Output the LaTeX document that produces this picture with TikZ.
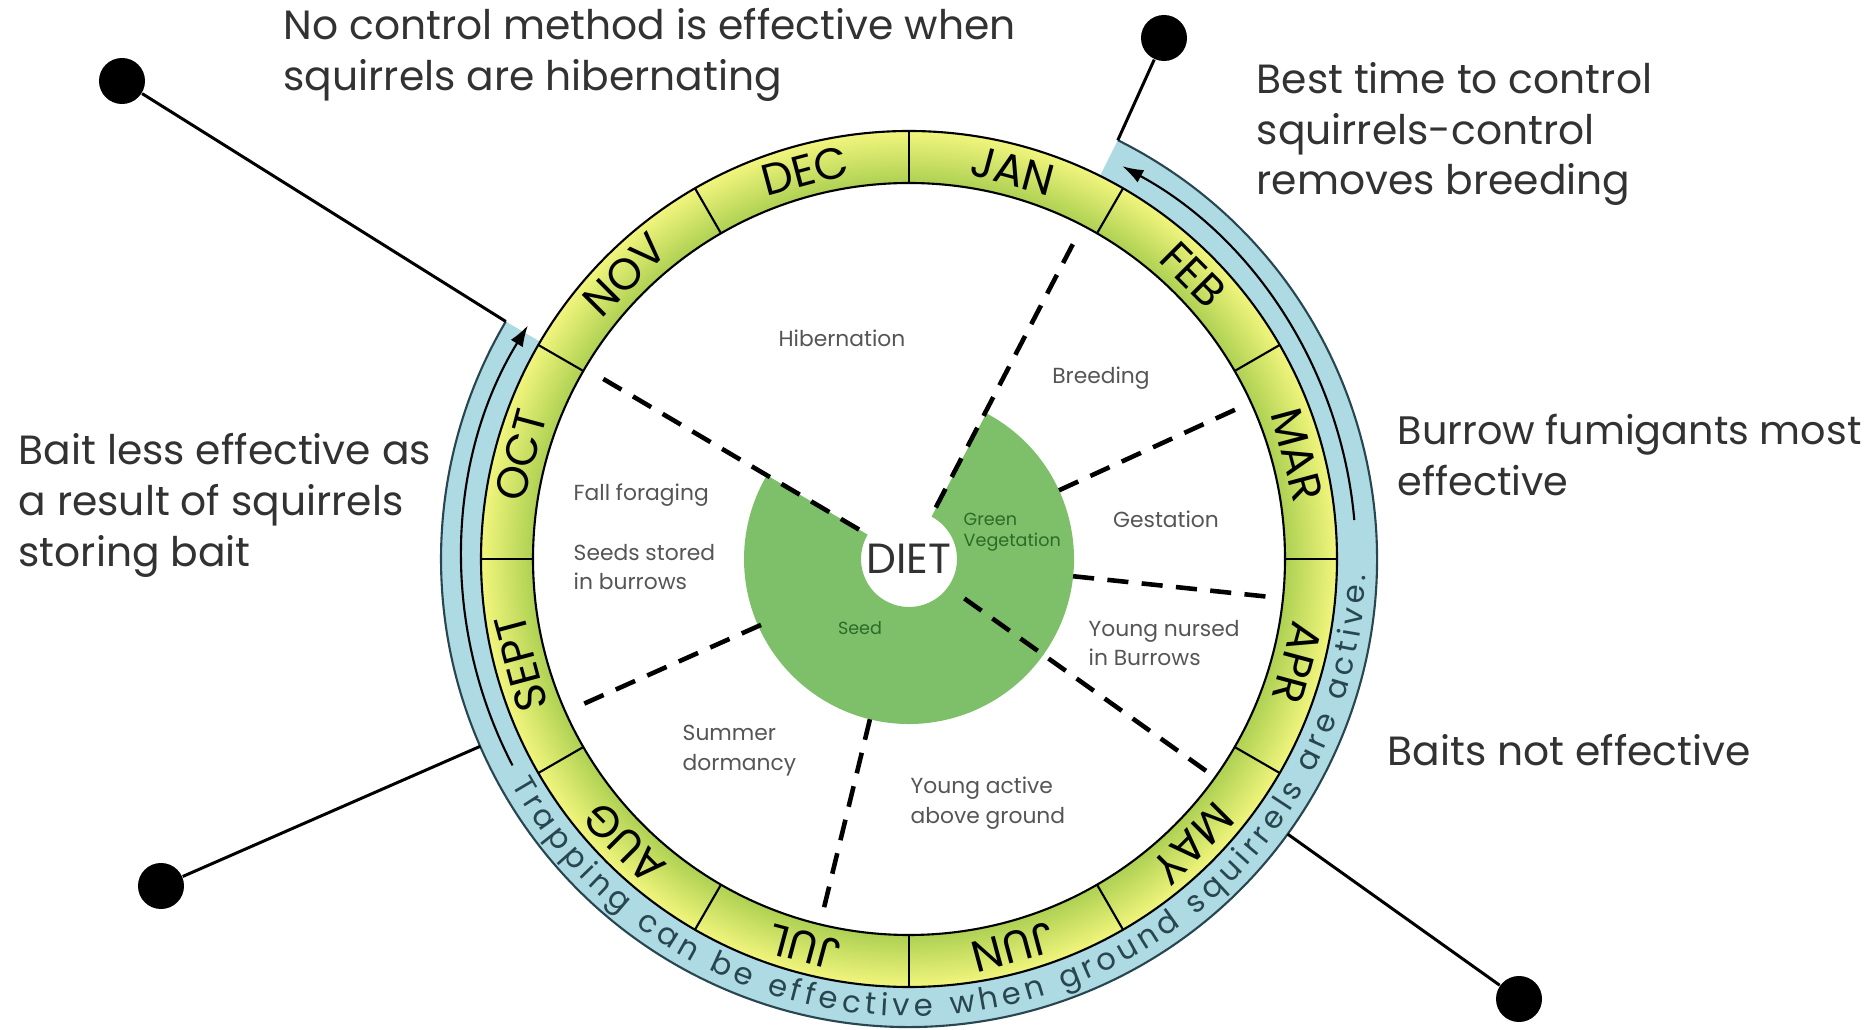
\documentclass[tikz,border=0pt]{standalone}
\usepackage{fontspec}
\setmainfont{Poppins}
\usetikzlibrary{positioning}
\usetikzlibrary{calc}
\usetikzlibrary{arrows.meta}
\usetikzlibrary{decorations.text}

\definecolor{bandblue}{RGB}{174,218,228}
\definecolor{bandline}{RGB}{40,70,80}
\definecolor{ringyellow}{RGB}{242,245,125}
\definecolor{ringgreen}{RGB}{172,208,82}
\definecolor{dietgreen}{RGB}{125,192,105}
\definecolor{leafgreen}{RGB}{45,105,40}
\definecolor{txtgray}{RGB}{50,50,50}
\definecolor{labelgray}{RGB}{85,85,85}

\pgfdeclareradialshading{ringshade}{\pgfpoint{0bp}{0bp}}{color(0bp)=(ringgreen); color(21.9bp)=(ringgreen); color(25bp)=(ringyellow); color(50bp)=(ringyellow)}

\newcommand{\bandfont}{\fontsize{8.7}{8.7}\selectfont}

\tikzset{
  callout/.style={font=\fontsize{11.6}{14.5}\selectfont, text=txtgray, align=left, anchor=west, inner sep=0pt},
  phase/.style={font=\fontsize{6.2}{8.5}\selectfont, text=labelgray, align=left, inner sep=0pt},
  food/.style={font=\fontsize{5}{6}\selectfont, text=leafgreen, align=left, inner sep=0pt},
  month/.style={font=\fontsize{12.5}{12.5}\selectfont, text=black, inner sep=0pt},
  dot/.style={circle, fill=black, minimum size=0.46cm, inner sep=0pt},
  season/.style={dash pattern=on 6pt off 3.8pt, line width=1.3pt},
  pointer/.style={line width=0.85pt},
  rim/.style={line width=0.6pt},
}

\begin{document}
\begin{tikzpicture}[x=0.01cm, y=0.01cm]
    \useasboundingbox (0,0) rectangle (1872,1030);
    \coordinate (C) at (909,471);

    %% blue band (active period)
    \fill[bandblue] ($(C)+(63.5:468)$) arc[start angle=63.5, end angle=-210.5, radius=468]
        -- ($(C)+(-210.5:428)$) arc[start angle=-210.5, end angle=63.5, radius=428] -- cycle;
    \draw[rim, bandline] ($(C)+(63.5:468)$) arc[start angle=63.5, end angle=-210.5, radius=468];

    %% month ring
    \shade[shading=ringshade, even odd rule] (C) circle[radius=428] (C) circle[radius=376];
    \draw[rim] (C) circle[radius=428];
    \draw[rim] (C) circle[radius=376];
    \foreach \a in {0,30,...,330}
        \draw[rim] ($(C)+(\a:376)$) -- ($(C)+(\a:428)$);
    \foreach \m [count=\i, evaluate=\i as \a using 105-30*\i] in {JAN,FEB,MAR,APR,MAY,JUN,JUL,AUG,SEPT,OCT,NOV,DEC}
        \node[month, rotate=\a-90] (m\i) at ($(C)+(\a:402)$) {\m};

    %% diet
    \fill[dietgreen] ($(C)+(62:165)$) arc[start angle=62, end angle=-210.5, radius=165]
        -- ($(C)+(-210.5:48)$) arc[start angle=-210.5, end angle=62, radius=48] -- cycle;
    \node[font=\fontsize{12}{12}\selectfont, text=txtgray, inner sep=0pt] (diet) at (C) {DIET};
    \node[food, anchor=west] (veg) at (963,498) {Green\\Vegetation};
    \node[food] (seed) at (860,402) {Seed};

    %% season borders
    \foreach \a/\r in {149.5/58, 62.5/58, 24.6/165, -6/165, -35.5/68, -103.7/165, -156/162}
        \draw[season] ($(C)+(\a:\r)$) -- ($(C)+(\a:365)$);

    %% phases
    \node[phase] (hib) at (842,692) {Hibernation};
    \node[phase] (breed) at (1101,652) {Breeding};
    \node[phase] (gest) at (1166,511) {Gestation};
    \node[phase, anchor=west] (nursed) at (1088,387) {Young nursed\\in Burrows};
    \node[phase, anchor=west] (active) at (910,227) {Young active\\above ground};
    \node[phase, anchor=west] (dorm) at (682,279) {Summer\\dormancy};
    \node[phase, anchor=west] (fall) at (573,535) {Fall foraging};
    \node[phase, anchor=west] (stored) at (573,463) {Seeds stored\\in burrows};

    %% trapping arrows and text
    \draw[rim, -{Latex[length=6pt,width=4pt]}] ($(C)+(5:447)$) arc[start angle=5, end angle=61.5, radius=447];
    \draw[rim, -{Latex[length=6pt,width=4pt]}] ($(C)+(207.5:447)$) arc[start angle=207.5, end angle=148.5, radius=447];
    \path[decorate, decoration={text along path, text align=fit to path, text color=bandline,
        text={|\bandfont|Trapping can be effective when ground squirrels are active.}}]
        ($(C)+(-150.5:457)$) arc[start angle=-150.5, end angle=-2, radius=457];

    %% callouts
    \node[dot] (d1) at (122,949) {};
    \node[dot] (d2) at (1164,992) {};
    \node[dot] (d3) at (161,144) {};
    \node[dot] (d4) at (1519,31) {};
    \coordinate (e1) at ($(C)+(149.5:468)$);
    \coordinate (e2) at ($(C)+(63.5:468)$);
    \coordinate (e3) at ($(C)+(-156.4:468)$);
    \coordinate (e4) at ($(C)+(-36:468)$);
    \draw[pointer] (d1) -- (e1);
    \draw[pointer] (d2) -- (e2);
    \draw[pointer] (d3) -- (e3);
    \draw[pointer] (d4) -- (e4);

    \node[callout] (t1) at (283,975) {No control method is effective when\\squirrels are hibernating};
    \node[callout] (t2) at (1256,896) {Best time to control\\squirrels-control\\removes breeding};
    \node[callout, font=\fontsize{11.3}{14.5}\selectfont] (t3) at (1397,575) {Burrow fumigants most\\effective};
    \node[callout] (t4) at (1387,280) {Baits not effective};
    \node[callout] (t5) at (18,525) {Bait less effective as\\a result of squirrels\\storing bait};
\end{tikzpicture}
\end{document}
